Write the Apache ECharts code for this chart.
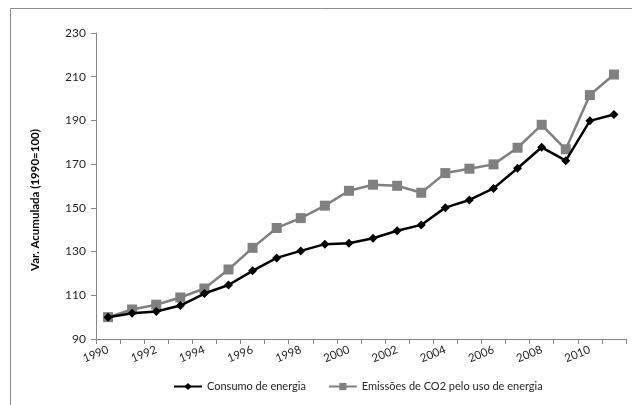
<!DOCTYPE html>
<html>
<head>
<meta charset="utf-8">
<script src="https://cdn.jsdelivr.net/npm/echarts@6/dist/echarts.min.js"></script>
<style>
  html, body { margin: 0; padding: 0; background: #fff; }
  #chart { width: 632px; height: 405px; }
</style>
</head>
<body>
<div id="chart"></div>
<script>
// Years on the category axis
const years = ['1990','1991','1992','1993','1994','1995','1996','1997','1998','1999','2000',
               '2001','2002','2003','2004','2005','2006','2007','2008','2009','2010','2011'];

// Cumulative change index (1990 = 100)
const consumoEnergia = [100, 101.8, 102.6, 105.3, 110.8, 114.7, 121.2, 127.1, 130.3, 133.4, 133.8,
                        136.1, 139.5, 142.2, 150.1, 153.6, 158.9, 168.1, 177.7, 171.6, 189.8, 192.7];
const emissoesCO2 = [100, 103.5, 105.7, 109.0, 113.1, 121.8, 131.7, 140.8, 145.3, 151.0, 157.8,
                     160.6, 160.1, 156.9, 165.9, 167.9, 169.9, 177.5, 188.0, 176.8, 201.6, 211.0];

const seriesNames = ['Consumo de energia', 'Emissões de CO2 pelo uso de energia'];
const yAxisTitle = 'Var. Acumulada (1990=100)';

const FONT = 'Lato';
const chart = echarts.init(document.getElementById('chart'), null, { renderer: 'canvas' });

chart.setOption({
  animation: false,
  backgroundColor: '#fff',
  textStyle: { fontFamily: FONT },
  graphic: [{
    type: 'rect',
    shape: { x: 10.5, y: 8.5, width: 700, height: 500 },
    style: { fill: 'none', stroke: '#8c8c8c', lineWidth: 1 },
    silent: true
  }],
  grid: { left: 96, right: 6, top: 33, bottom: 66, containLabel: false },
  legend: {
    bottom: 8,
    left: 168,
    itemWidth: 28,
    itemHeight: 9,
    itemGap: 22,
    textStyle: { fontFamily: FONT, fontSize: 11, color: '#262626' },
    data: seriesNames
  },
  xAxis: {
    type: 'category',
    data: years,
    boundaryGap: true,
    axisLine: { lineStyle: { color: '#868686', width: 1 } },
    axisTick: { show: true, length: 5, interval: 0, lineStyle: { color: '#868686' } },
    axisLabel: {
      interval: 1,
      rotate: 22,
      margin: 10,
      fontFamily: FONT,
      fontSize: 11.5,
      color: '#262626'
    },
    splitLine: { show: false }
  },
  yAxis: {
    type: 'value',
    min: 90,
    max: 230,
    interval: 20,
    name: yAxisTitle,
    nameLocation: 'middle',
    nameGap: 55,
    nameRotate: 90,
    nameTextStyle: {
      fontFamily: FONT, fontSize: 11.5, fontWeight: 'bold', color: '#000',
      padding: [0, 28, 0, 0]
    },
    axisLine: { show: true, lineStyle: { color: '#868686', width: 1 } },
    axisTick: { show: true, length: 5, inside: false, lineStyle: { color: '#868686' } },
    axisLabel: { fontFamily: FONT, fontSize: 12, color: '#262626', margin: 10 },
    splitLine: { show: false }
  },
  series: [
    {
      name: seriesNames[0],
      type: 'line',
      data: consumoEnergia,
      symbol: 'diamond',
      symbolSize: 9,
      itemStyle: { color: '#000' },
      lineStyle: { color: '#000', width: 2.5 },
      z: 3
    },
    {
      name: seriesNames[1],
      type: 'line',
      data: emissoesCO2,
      symbol: 'rect',
      symbolSize: 10,
      itemStyle: { color: '#808080' },
      lineStyle: { color: '#808080', width: 2.5 },
      z: 2
    }
  ]
});
</script>
</body>
</html>
